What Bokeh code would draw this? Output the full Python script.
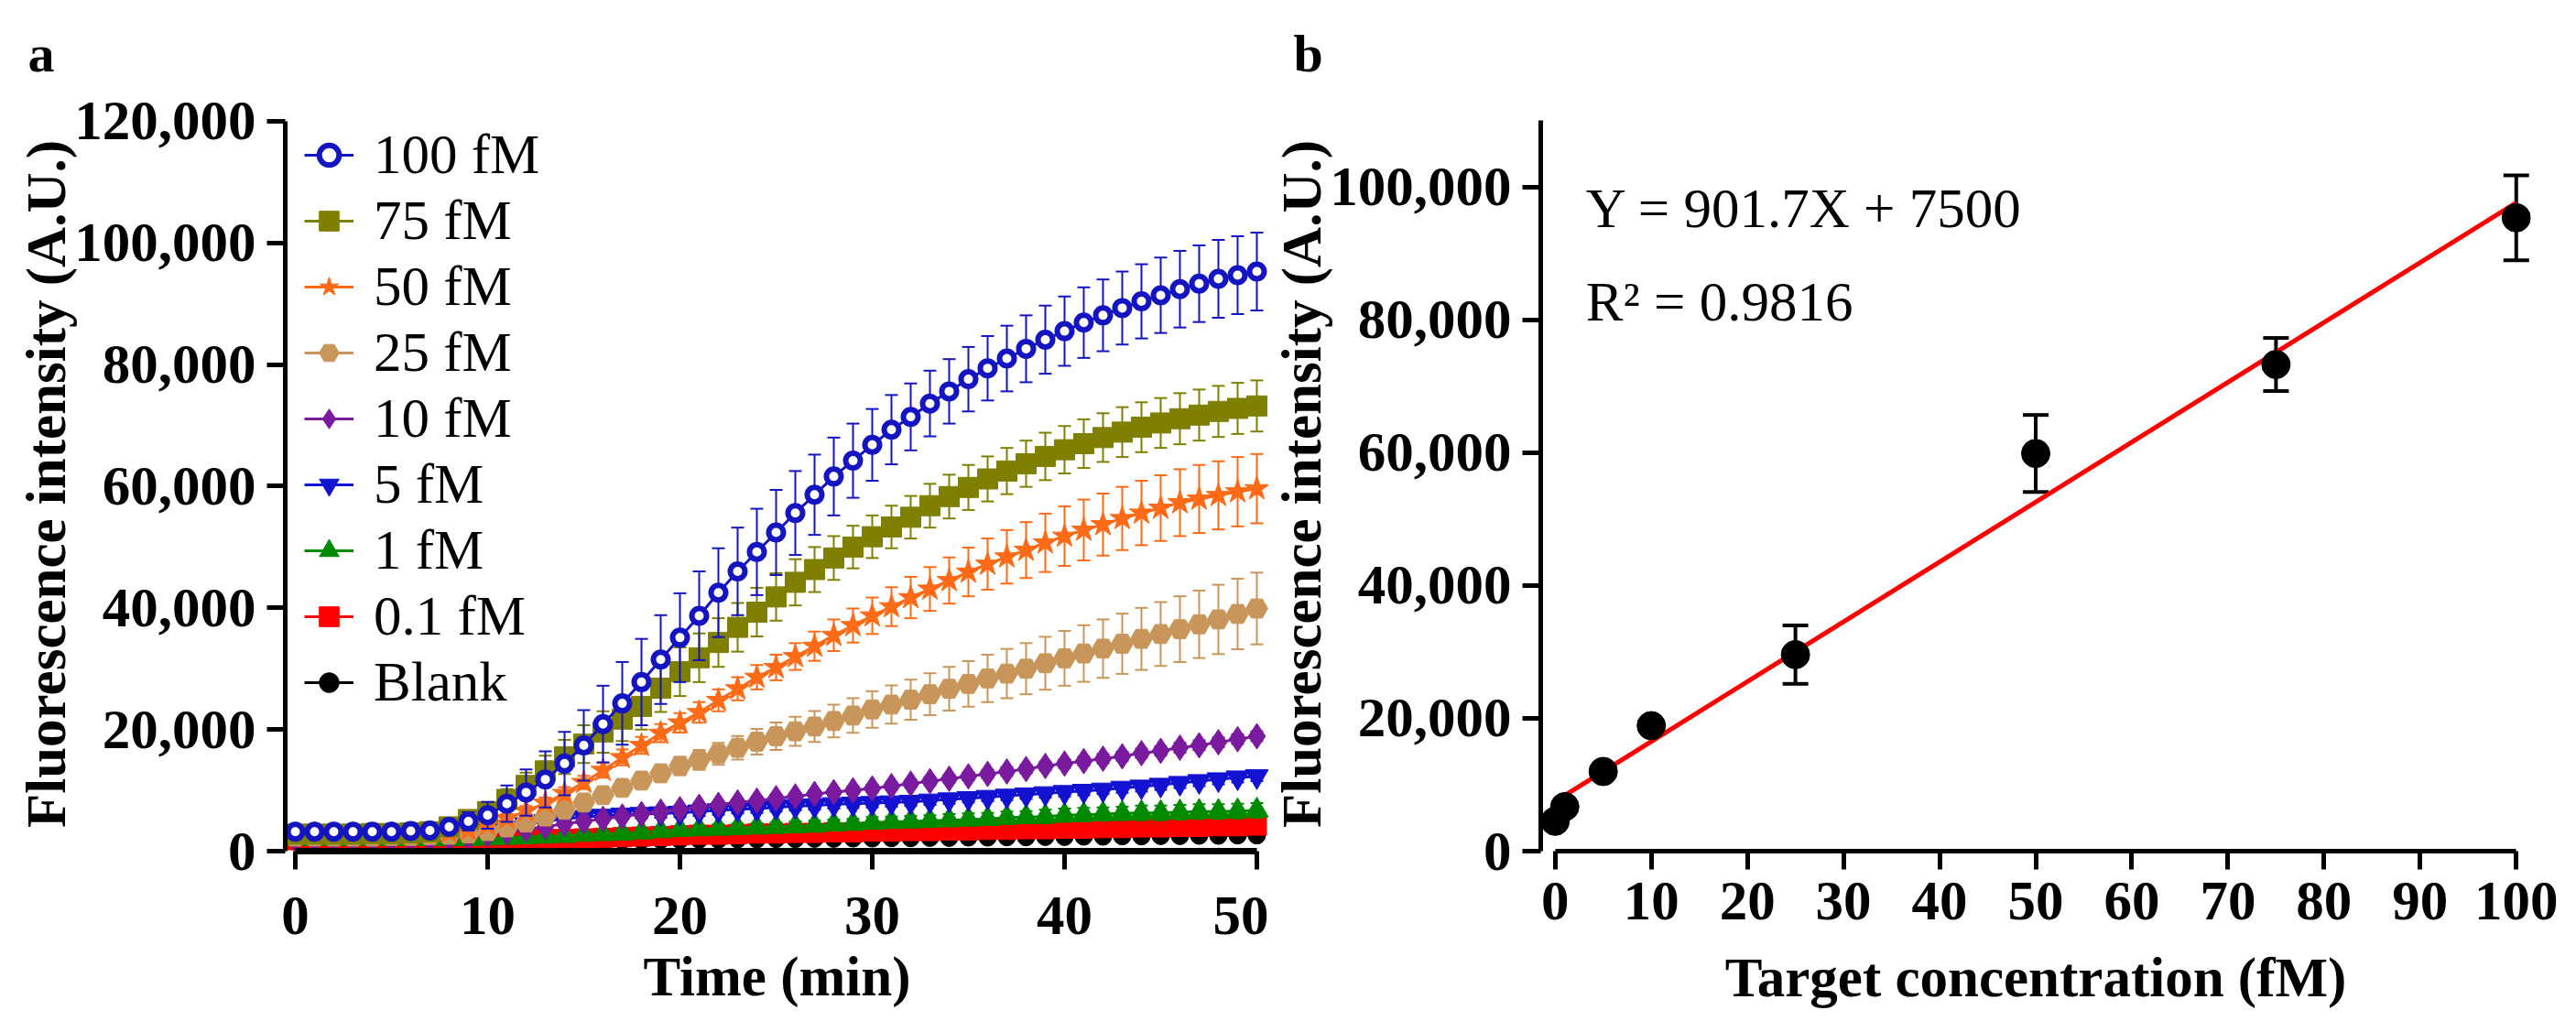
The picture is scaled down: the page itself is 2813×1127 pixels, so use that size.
import numpy as np
from bokeh.plotting import figure
from bokeh.models import (ColumnDataSource, Legend, LegendItem, Label, Range1d,
                          NumeralTickFormatter, FixedTicker)
from bokeh.layouts import row, column
from bokeh.embed import file_html
from bokeh.resources import INLINE

# ---------------- data: panel a ----------------
time_min = list(range(0, 51))

s100 = [3200,3200,3200,3200,3200,3200,3300,3400,4000,4900,
        5900,7800,9650,11800,14400,17400,20900,24300,27800,31500,
        35100,38700,42500,46000,49200,52400,55600,58600,61600,64200,
        66800,69300,71400,73600,75600,77600,79400,81000,82600,84100,
        85500,86900,88100,89300,90400,91400,92400,93300,94100,94700,
        95300]
e100 = [400,400,400,400,400,400,400,500,800,1500,
        2200,3000,3800,4600,5200,5800,6300,6800,7100,7300,
        7300,7300,7300,7200,7100,7000,6900,6600,6400,6100,
        5900,5700,5500,5400,5300,5300,5300,5400,5500,5600,
        5700,5800,5900,6000,6100,6200,6300,6300,6400,6400,
        6400]
s75 = [2800,2800,2800,2800,2900,2900,3000,3200,4000,5200,
       6500,8500,10800,13200,15500,17600,19600,21700,23800,26800,
       29500,31800,34300,36800,39300,41800,44200,46300,48200,50000,
       51700,53300,54900,56800,58300,59800,61200,62500,63700,64900,
       66000,67000,68000,68900,69700,70400,71100,71700,72300,72800,
       73200]
e75 = [300,300,300,300,300,300,300,400,600,900,
       1300,1700,2100,2500,2800,3100,3400,3600,3800,3900,
       4000,4000,4000,4000,4000,3900,3800,3700,3600,3500,
       3500,3500,3500,3600,3600,3700,3700,3800,3800,3900,
       3900,4000,4000,4100,4100,4100,4200,4200,4200,4200,
       4200]
s50 = [2700,2700,2700,2700,2700,2800,2800,2900,3100,3500,
       4300,5400,6600,7900,9500,11300,13300,15400,17400,19400,
       21100,22800,24800,26700,28600,30200,32000,33700,35500,37100,
       38700,40200,41700,43100,44500,45900,47200,48400,49500,50700,
       51800,52800,53700,54700,55600,56400,57300,57900,58500,59100,
       59600]
e50 = [300,300,300,300,300,300,300,300,400,500,
       600,700,800,900,1000,1100,1200,1300,1400,1500,
       1600,1700,1800,1900,2000,2100,2200,2400,2600,2800,
       3000,3200,3400,3600,3800,4000,4200,4400,4600,4800,
       4900,5000,5100,5200,5300,5400,5500,5600,5600,5700,
       5700]
s25 = [2400,2400,2400,2400,2400,2500,2500,2600,2700,2900,
       3300,3900,4700,5700,6800,8000,9200,10400,11600,12800,
       14000,15000,16000,17000,18000,18900,19700,20500,21400,22300,
       23300,24100,24900,25800,26700,27500,28400,29200,30000,30900,
       31700,32500,33300,34100,34900,35700,36500,37300,38100,39000,
       39900]
e25 = [200,200,200,200,200,200,200,300,300,400,
       500,600,700,800,900,1000,1100,1200,1300,1400,
       1500,1650,1800,1950,2100,2250,2400,2550,2700,2850,
       3000,3150,3300,3450,3600,3750,3900,4050,4200,4350,
       4500,4650,4800,4950,5100,5250,5400,5550,5700,5800,
       5900]
s10 = [2000,2000,2000,2000,2000,2000,2000,2100,2200,2400,
       2800,3200,3600,4000,4500,4900,5300,5700,6100,6500,
       6900,7300,7600,8000,8300,8700,9000,9400,9700,10000,
       10300,10700,11100,11500,11900,12300,12700,13100,13500,14000,
       14400,14800,15200,15600,16100,16500,17000,17400,17900,18400,
       18900]
e10 = [200,200,200,200,200,200,200,200,200,250,
       250,300,300,350,350,400,400,400,450,450,
       450,500,500,500,500,550,550,550,550,600,
       600,600,600,650,650,650,650,700,700,700,
       700,700,750,750,750,750,800,800,800,800,
       800]
s5 = [2300,2300,2300,2300,2300,2300,2400,2500,2700,3000,
      3400,3900,4400,4900,5300,5600,5800,6000,6100,6200,
      6300,6500,6700,6900,7000,7200,7400,7500,7700,7800,
      7900,8000,8100,8300,8500,8700,8900,9100,9300,9500,
      9700,9900,10100,10400,10600,10900,11200,11500,11800,12100,
      12300]
e5 = [200,200,200,200,200,200,200,300,300,400,
      500,600,700,700,700,700,700,700,700,700,
      700,700,700,700,700,700,700,700,700,700,
      700,700,700,700,700,700,700,700,700,700,
      700,700,700,800,800,800,800,800,800,800,
      800]
s1 = [2000,2000,2000,2000,2000,2000,2000,2000,2000,2000,
      2100,2200,2300,2400,2500,2700,2800,2900,3100,3300,
      3500,3600,3700,3800,3900,4000,4100,4200,4400,4500,
      4700,4800,4900,5000,5100,5200,5300,5500,5600,5700,
      5900,6000,6100,6200,6300,6300,6400,6500,6500,6600,
      6700]
e1 = [200,200,200,200,200,200,200,200,200,200,
      300,300,300,400,400,400,500,500,500,600,
      600,600,700,700,700,700,800,800,800,800,
      900,900,900,900,1000,1000,1000,1000,1000,1100,
      1100,1100,1100,1100,1200,1200,1200,1200,1200,1200,
      1200]
s01 = [1800,1800,1800,1800,1800,1800,1800,1800,1800,1800,
       1800,1900,1900,2000,2000,2100,2200,2300,2400,2500,
       2600,2700,2700,2800,2900,2900,3000,3000,3100,3100,
       3200,3200,3300,3300,3400,3400,3500,3500,3600,3600,
       3700,3700,3800,3800,3900,3900,4000,4000,4100,4100,
       4200]
e01 = [200,200,200,200,200,200,200,200,200,200,
       300,300,300,300,400,400,400,400,500,500,
       500,500,600,600,600,600,600,700,700,700,
       700,700,700,800,800,800,800,800,800,900,
       900,900,900,900,900,900,900,900,900,900,
       900]
sblank = [1600,1600,1600,1600,1600,1600,1600,1600,1600,1600,
          1600,1650,1650,1700,1700,1750,1750,1800,1800,1850,
          1850,1900,1900,1950,1950,2000,2000,2050,2050,2100,
          2100,2150,2150,2200,2200,2250,2250,2300,2300,2350,
          2350,2400,2400,2450,2450,2500,2500,2550,2550,2600,
          2600]
eblank = [150,150,150,150,150,150,150,150,150,150,
          150,150,150,150,150,150,150,150,150,150,
          200,200,200,200,200,200,200,200,200,200,
          200,200,200,200,200,200,200,200,200,200,
          250,250,250,250,250,250,250,250,250,250,
          250]

series_names = ["100 fM", "75 fM", "50 fM", "25 fM", "10 fM", "5 fM", "1 fM", "0.1 fM", "Blank"]
series_vals = [s100, s75, s50, s25, s10, s5, s1, s01, sblank]
series_errs = [e100, e75, e50, e25, e10, e5, e1, e01, eblank]
series_colors = ["#1414c0", "#7f7f00", "#ff6a16", "#c8965a", "#7a1a9e",
                 "#1212d0", "#008a00", "#ff0000", "#000000"]
series_markers = ["circle", "square", "star", "hex", "diamond",
                  "inverted_triangle", "triangle", "square", "circle"]
series_sizes = [16, 22, 28, 24, 28, 25, 25, 21, 19]

time_ticks = [0, 10, 20, 30, 40, 50]
intensity_ticks_a = [0, 20000, 40000, 60000, 80000, 100000, 120000]

# ---------------- data: panel b ----------------
conc_fM = [0, 1, 5, 10, 25, 50, 75, 100]
fluor_b = [4500, 6700, 12000, 18900, 29600, 59900, 73300, 95400]
fluor_b_err = [400, 500, 600, 700, 4400, 5800, 4000, 6400]
fit_slope = 901.7
fit_intercept = 7500
fit_r2 = 0.9816
conc_ticks = [0, 10, 20, 30, 40, 50, 60, 70, 80, 90, 100]
intensity_ticks_b = [0, 20000, 40000, 60000, 80000, 100000]

panel_letters = ["a", "b"]

FONT = "Liberation Serif"
HEADER_H = 90
PLOT_H = 1111 - HEADER_H
BORDER_TOP = 127 - HEADER_H
BORDER_BOTTOM = 182


def style_axes(p, xticks, yticks, xlabel, ylabel, xbounds, ybounds, axis_w,
               x_std, x_lbl_std, y_std, y_lbl_std):
    for ax in (p.xaxis[0], p.yaxis[0]):
        ax.axis_line_width = axis_w
        ax.axis_line_color = "black"
        ax.major_tick_line_width = axis_w
        ax.major_tick_line_color = "black"
        ax.major_tick_out = 20
        ax.major_tick_in = 0
        ax.minor_tick_line_color = None
        ax.major_label_text_font = FONT
        ax.major_label_text_font_style = "bold"
        ax.major_label_text_font_size = "61px"
        ax.major_label_text_color = "black"
        ax.axis_label_text_font = FONT
        ax.axis_label_text_font_style = "bold"
        ax.axis_label_text_font_size = "61px"
        ax.axis_label_text_color = "black"
    p.xaxis[0].ticker = FixedTicker(ticks=xticks)
    p.yaxis[0].ticker = FixedTicker(ticks=yticks)
    p.yaxis[0].formatter = NumeralTickFormatter(format="0,0")
    p.xaxis[0].bounds = xbounds
    p.yaxis[0].bounds = ybounds
    p.xaxis[0].axis_label = xlabel
    p.yaxis[0].axis_label = ylabel
    p.xaxis[0].major_label_standoff = x_std
    p.xaxis[0].axis_label_standoff = x_lbl_std
    p.yaxis[0].major_label_standoff = y_std
    p.yaxis[0].axis_label_standoff = y_lbl_std
    p.grid.visible = False
    p.outline_line_color = None


# ---------------- header strip with the panel letters ----------------
hdr = figure(width=2797, height=HEADER_H, output_backend="svg", toolbar_location=None,
             x_range=Range1d(0, 2797), y_range=Range1d(0, HEADER_H),
             x_axis_type=None, y_axis_type=None, min_border=0)
hdr.grid.visible = False
hdr.outline_line_color = None
for letter, lx in zip(panel_letters, [30, 1412]):
    hdr.add_layout(Label(x=lx, y=HEADER_H - 58, text=letter, text_font=FONT,
                         text_font_style="bold", text_font_size="58px",
                         text_color="black", text_baseline="alphabetic"))

# ---------------- panel a ----------------
pa = figure(width=1385, height=PLOT_H, output_backend="svg", toolbar_location=None,
            x_range=Range1d(-0.524, 50.62), y_range=Range1d(0, 120750),
            min_border_left=311, min_border_right=0, min_border_top=BORDER_TOP,
            min_border_bottom=BORDER_BOTTOM)
style_axes(pa, time_ticks, intensity_ticks_a, "Time (min)",
           "Fluorescence intensity (A.U.)", (0, 50), (0, 120000), 5,
           30, 10, 12, -6)
pa.xaxis[0].axis_line_width = 7

t_arr = np.array(time_min, dtype=float)
rend = {}
for i in reversed(range(len(series_names))):
    v = np.array(series_vals[i], dtype=float)
    e = np.array(series_errs[i], dtype=float)
    c = series_colors[i]
    src = ColumnDataSource(dict(t=t_arr, v=v, hi=v + e, lo=v - e))
    pa.segment(x0="t", y0="lo", x1="t", y1="hi", source=src, line_color=c, line_width=2)
    pa.scatter(x="t", y="hi", source=src, marker="dash", size=14, line_color=c, line_width=2)
    pa.scatter(x="t", y="lo", source=src, marker="dash", size=14, line_color=c, line_width=2)
    ln = pa.line(x="t", y="v", source=src, line_color=c, line_width=3)
    if i == 0:
        sc = pa.scatter(x="t", y="v", source=src, marker="circle", size=series_sizes[i],
                        fill_color="white", line_color=c, line_width=6)
    else:
        sc = pa.scatter(x="t", y="v", source=src, marker=series_markers[i],
                        size=series_sizes[i], fill_color=c, line_color=c, line_width=1)
    rend[i] = (ln, sc)

items = [LegendItem(label=name, renderers=list(rend[i])) for i, name in enumerate(series_names)]
legend = Legend(items=items, location=(21, 148), orientation="vertical",
                glyph_width=54, glyph_height=72, label_height=72, spacing=0,
                label_standoff=22, padding=0, margin=0,
                background_fill_alpha=0, border_line_color=None,
                label_text_font=FONT, label_text_font_size="61px",
                label_text_color="black")
pa.add_layout(legend, "center")

# ---------------- panel b ----------------
pb = figure(width=1412, height=PLOT_H, output_backend="svg", toolbar_location=None,
            x_range=Range1d(-1.5, 101.5), y_range=Range1d(0, 110620),
            min_border_left=293, min_border_right=34, min_border_top=BORDER_TOP,
            min_border_bottom=BORDER_BOTTOM)
style_axes(pb, conc_ticks, intensity_ticks_b, "Target concentration (fM)",
           "Fluorescence intensity (A.U.)", (0, 100), (0, 110000), 5,
           14, 27, 12, -6)

xb = np.array(conc_fM, dtype=float)
yb = np.array(fluor_b, dtype=float)
eb = np.array(fluor_b_err, dtype=float)
srcb = ColumnDataSource(dict(x=xb, y=yb, hi=yb + eb, lo=yb - eb))

fit_x = np.array([conc_fM[0], conc_fM[-1]], dtype=float)
fit_y = fit_slope * fit_x + fit_intercept

pb.segment(x0="x", y0="lo", x1="x", y1="hi", source=srcb, line_color="black", line_width=4)
pb.scatter(x="x", y="hi", source=srcb, marker="dash", size=28, line_color="black", line_width=4)
pb.scatter(x="x", y="lo", source=srcb, marker="dash", size=28, line_color="black", line_width=4)
pb.line(fit_x, fit_y, line_color="#ff0000", line_width=5)
pb.scatter(x="x", y="y", source=srcb, marker="circle", size=31, fill_color="black",
           line_color="black")

pb.add_layout(Label(x=3.2, y=96800, text=f"Y = {fit_slope}X + {fit_intercept}",
                    text_font=FONT, text_font_size="61px", text_color="black",
                    text_baseline="middle"))
pb.add_layout(Label(x=3.2, y=82800, text=f"R\u00b2 =  {fit_r2}",
                    text_font=FONT, text_font_size="61px", text_color="black",
                    text_baseline="middle"))

layout = column(hdr, row(pa, pb))
open("out.html", "w").write(file_html(layout, INLINE))
